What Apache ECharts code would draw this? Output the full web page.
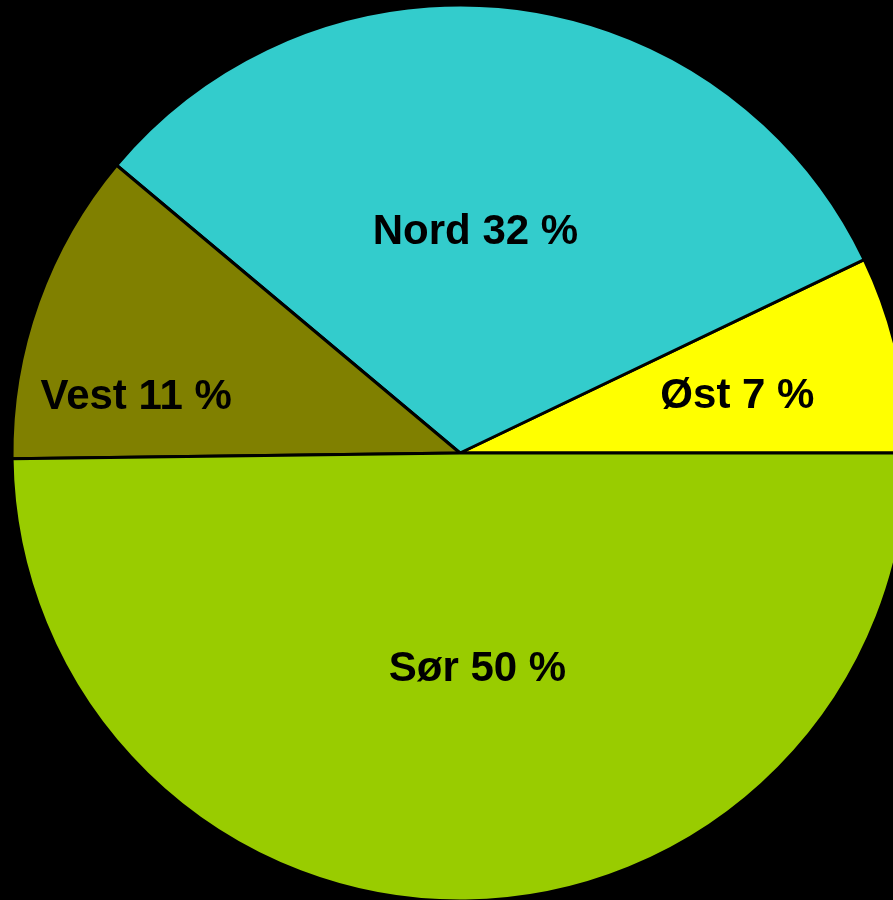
<!DOCTYPE html>
<html>
<head>
<meta charset="utf-8">
<script src="https://cdn.jsdelivr.net/npm/echarts@6/dist/echarts.min.js"></script>
<style>html,body{margin:0;padding:0;background:#000;}#c{width:893px;height:900px;}</style>
</head>
<body>
<div id="c"></div>
<script>
const categories = ['Øst', 'Nord', 'Vest', 'Sør'];
const values = [7.1, 31.8, 11.3, 49.8];
const colors = ['#FFFF00', '#33CCCC', '#808000', '#99CC00'];
const labelShift = [[56, -6], [-13, 5], [-110, 21], [16, -11]];

const chart = echarts.init(document.getElementById('c'));
chart.setOption({
  backgroundColor: '#000000',
  animation: false,
  series: [{
    type: 'pie',
    center: [460, 453],
    radius: 448,
    startAngle: 0,
    clockwise: false,
    percentPrecision: 0,
    data: categories.map((c, i) => ({ name: c, value: values[i], itemStyle: { color: colors[i] } })),
    itemStyle: { borderColor: '#000', borderWidth: 3 },
    label: {
      position: 'inside',
      formatter: '{b} {d} %',
      color: '#000',
      fontFamily: 'Liberation Sans, Arial, sans-serif',
      fontWeight: 'bold',
      fontSize: 42
    },
    labelLine: { show: false },
    emphasis: { disabled: true },
    labelLayout: function (p) {
      const s = labelShift[p.dataIndex];
      return { dx: s[0], dy: s[1] };
    }
  }]
});
</script>
</body>
</html>
